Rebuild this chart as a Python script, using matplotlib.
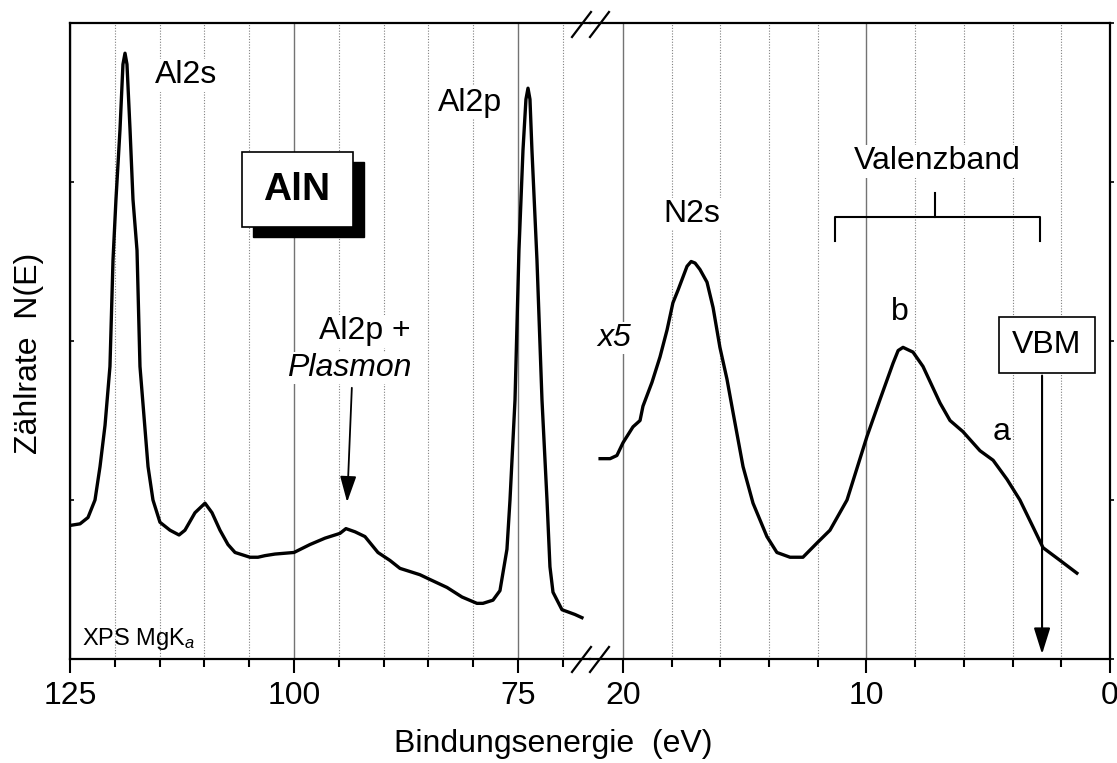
import matplotlib
matplotlib.use('Agg')
import matplotlib.pyplot as plt
from matplotlib.patches import Rectangle
from matplotlib.ticker import MultipleLocator

plt.rcParams['font.family'] = ['Liberation Sans', 'DejaVu Sans']
plt.rcParams['mathtext.fontset'] = 'custom'
plt.rcParams['mathtext.rm'] = 'Liberation Sans'
plt.rcParams['mathtext.it'] = 'Liberation Sans:italic'
fs = 23

# core level part (Al2s, Al2p), binding energy in eV, counts in a.u.
core_energy = [125.00, 123.88, 122.99, 122.21, 121.65, 121.09, 120.54, 120.20, 119.87, 119.42,
               119.09, 118.86, 118.64, 118.30, 117.97, 117.52, 117.19, 116.29, 115.74, 114.96,
               113.84, 112.83, 112.17, 111.05, 109.93, 109.15, 108.26, 107.37, 106.58, 104.91,
               104.02, 103.24, 102.12, 100.00, 98.21, 96.54, 94.87, 94.20, 93.19, 92.08,
               90.63, 89.29, 88.17, 87.05, 85.94, 84.82, 82.92, 81.25, 79.58, 78.91,
               77.79, 77.01, 76.23, 75.89, 75.33, 74.89, 74.44, 74.11, 73.88, 73.66,
               73.44, 72.88, 72.32, 71.76, 71.43, 71.09, 70.09, 68.64, 67.86]
core_counts = [0.84, 0.85, 0.89, 1.00, 1.21, 1.47, 1.84, 2.51, 2.89, 3.33,
               3.74, 3.81, 3.74, 3.33, 2.89, 2.57, 1.84, 1.21, 1.00, 0.86,
               0.81, 0.78, 0.81, 0.92, 0.98, 0.92, 0.81, 0.72, 0.67, 0.64,
               0.64, 0.65, 0.66, 0.67, 0.72, 0.76, 0.79, 0.82, 0.80, 0.77,
               0.67, 0.62, 0.57, 0.55, 0.53, 0.50, 0.45, 0.39, 0.35, 0.35,
               0.37, 0.43, 0.69, 1.00, 1.63, 2.57, 3.20, 3.52, 3.59, 3.52,
               3.20, 2.51, 1.63, 1.00, 0.58, 0.42, 0.31, 0.28, 0.26]

# N2s and valence band (x5)
vb_energy = [20.94, 20.53, 20.25, 20.00, 19.59, 19.30, 19.18, 18.81, 18.48, 18.19,
             17.95, 17.74, 17.37, 17.20, 17.04, 16.84, 16.55, 16.30, 16.02, 15.73, 15.48,
             15.07, 14.66, 14.09, 13.68, 13.14, 12.61, 12.03, 11.50, 10.80, 9.98,
             9.45, 8.91, 8.70, 8.50, 8.09, 7.68, 6.98, 6.57, 6.04, 5.34, 4.80,
             4.23, 3.70, 3.16, 2.75, 2.05, 1.36]
vb_counts = [1.26, 1.26, 1.28, 1.36, 1.46, 1.50, 1.59, 1.74, 1.90, 2.07,
             2.24, 2.32, 2.47, 2.50, 2.49, 2.45, 2.37, 2.21, 1.96, 1.76, 1.55,
             1.21, 0.98, 0.77, 0.67, 0.64, 0.64, 0.73, 0.81, 1.00, 1.40,
             1.63, 1.86, 1.94, 1.96, 1.93, 1.84, 1.61, 1.50, 1.43, 1.31, 1.25,
             1.13, 1.00, 0.83, 0.70, 0.62, 0.54]

fig = plt.figure(figsize=(11.17, 7.63), dpi=100)
bottom, height = 1 - 659 / 763, 636 / 763
ax1 = fig.add_axes([70 / 1117, bottom, 520 / 1117, height])
ax2 = fig.add_axes([590 / 1117, bottom, 520 / 1117, height], sharey=ax1)
ax2.patch.set_visible(False)

ax1.plot(core_energy, core_counts, color='k', lw=2.4, zorder=3)
ax2.plot(vb_energy, vb_counts, color='k', lw=2.4, zorder=3)

ax1.set_xlim(125, 66.96)
ax2.set_xlim(21.355, 0)
ax1.set_ylim(0, 4)
ax1.set_xticks([125, 100, 75])
ax1.xaxis.set_minor_locator(MultipleLocator(5))
ax2.set_xticks([20, 10, 0])
ax2.xaxis.set_minor_locator(MultipleLocator(2))

for ax in (ax1, ax2):
    ax.grid(which='major', axis='x', color='0.45', lw=1)
    ax.grid(which='minor', axis='x', color='0.5', lw=0.8, ls=(0, (1, 1.5)))
    ax.set_axisbelow(True)
    ax.tick_params(axis='x', which='major', direction='out', length=10, width=1.5,
                   labelsize=fs, pad=6)
    ax.tick_params(axis='x', which='minor', direction='out', length=6, width=1.5)
    for s in ax.spines.values():
        s.set_linewidth(1.6)

ax1.spines['right'].set_visible(False)
ax2.spines['left'].set_visible(False)
ax1.set_yticks([0, 1, 2, 3, 4])
ax1.tick_params(axis='y', direction='in', length=3, width=1.2, labelleft=False)
ax2.yaxis.tick_right()
ax2.tick_params(axis='y', direction='out', length=3, width=1.2, labelright=False)

# axis break marks
kw = dict(transform=ax1.transAxes, color='k', lw=1.6, clip_on=False, zorder=10)
for y0, y1 in [(0.978, 1.0173), (-0.0204, 0.0189)]:
    ax1.plot([0.9654, 1.0019], [y0, y1], **kw)
    ax1.plot([1.0, 1.0365], [y0, y1], **kw)

wbox = dict(facecolor='white', edgecolor='none', pad=1)
ax1.text(112.05, 3.67, 'Al2s', fontsize=fs, ha='center', va='center', bbox=wbox)
ax1.text(80.36, 3.50, 'Al2p', fontsize=fs, ha='center', va='center', bbox=wbox)

# AlN label with shadow box
ax1.add_patch(Rectangle((104.57, 2.654), -12.38, 0.472, facecolor='k', edgecolor='k', zorder=4))
ax1.add_patch(Rectangle((105.80, 2.717), -12.38, 0.472, facecolor='white', edgecolor='k',
                        lw=1.2, zorder=5))
ax1.text(99.67, 2.95, 'AlN', fontsize=28, fontweight='bold', ha='center', va='center', zorder=6)

ax1.text(92.08, 2.06, 'Al2p +', fontsize=fs, ha='center', va='center', bbox=wbox)
ax1.text(93.86, 1.83, 'Plasmon', fontsize=fs, style='italic', ha='center', va='center', bbox=wbox)
ax1.annotate('', xy=(94.08, 0.969), xytext=(93.53, 1.723),
             arrowprops=dict(arrowstyle='-|>,head_length=0.8,head_width=0.25',
                             color='k', lw=1.3, mutation_scale=20))
ax1.text(123.66, 0.088, 'XPS MgK$_a$', fontsize=17, ha='left', va='baseline')

ax2.text(20.37, 2.02, 'x5', fontsize=fs, style='italic', ha='center', va='center', bbox=wbox)
ax2.text(17.17, 2.80, 'N2s', fontsize=fs, ha='center', va='center', bbox=wbox)
ax2.text(7.10, 3.13, 'Valenzband', fontsize=fs, ha='center', va='center', bbox=wbox)
ax2.plot([11.29, 11.29, 2.87, 2.87], [2.63, 2.78, 2.78, 2.63], color='k', lw=1.5)
ax2.plot([7.19, 7.19], [2.78, 2.93], color='k', lw=1.5)
ax2.text(8.62, 2.18, 'b', fontsize=fs, ha='center', va='center', bbox=wbox)
ax2.text(4.44, 1.43, 'a', fontsize=fs, ha='center', va='center', bbox=wbox)

ax2.annotate('', xy=(2.79, 0.013), xytext=(2.79, 1.80),
             arrowprops=dict(arrowstyle='-|>,head_length=0.8,head_width=0.25',
                             color='k', lw=1.5, mutation_scale=20))
ax2.text(2.59, 1.975, 'VBM', fontsize=fs, ha='center', va='center', zorder=6,
         bbox=dict(boxstyle='square,pad=0.42', facecolor='white', edgecolor='k', lw=1.2))

fig.text(553 / 1117, 1 - 744 / 763, 'Bindungsenergie  (eV)', fontsize=fs,
         ha='center', va='center')
fig.text(29 / 1117, 1 - 353 / 763, 'Zählrate  N(E)', fontsize=fs, rotation=90,
         ha='center', va='center')

fig.savefig('out.png', dpi=100)
